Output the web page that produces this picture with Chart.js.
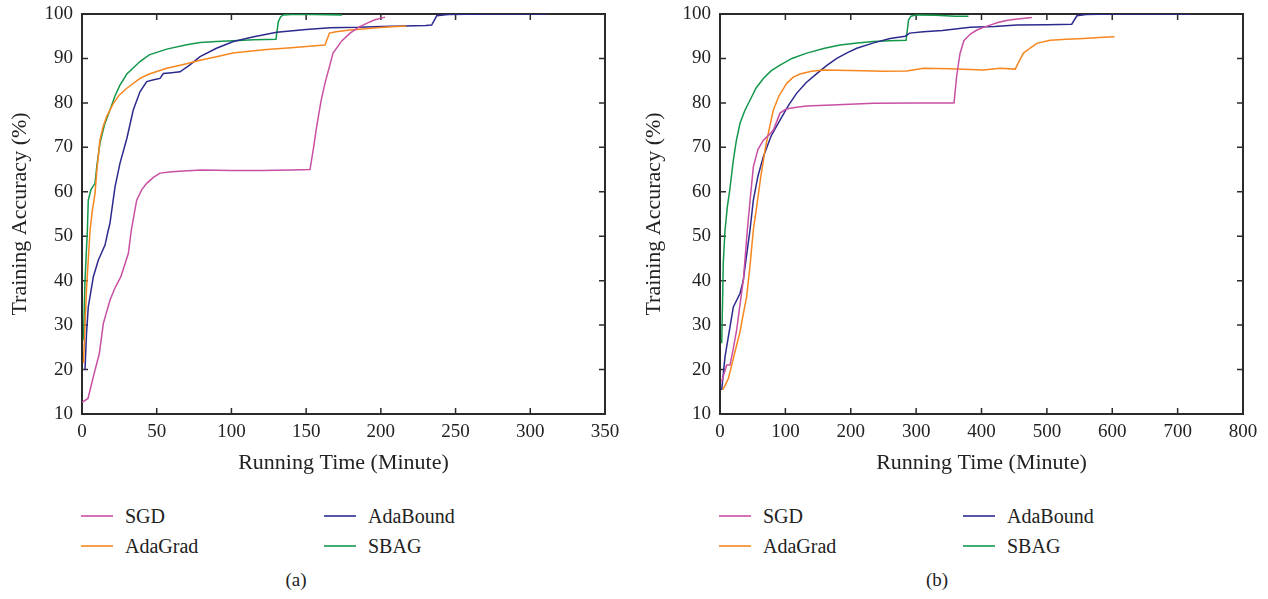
<!DOCTYPE html>
<html>
<head>
<meta charset="utf-8">
<script src="https://cdn.jsdelivr.net/npm/chart.js@4/dist/chart.umd.min.js"></script>
<style>
  body { margin: 0; background: #fff; }
  #page { position: relative; width: 1268px; height: 599px; font-family: 'Liberation Serif', 'DejaVu Serif', serif; color: #222; }
  .panel { position: absolute; top: 0; }
  .leg { position: absolute; display: flex; align-items: center; height: 24px; font-size: 20px; white-space: nowrap; }
  .leg span.line { display: inline-block; width: 32px; height: 2px; margin-right: 12px; opacity: 0.8; }
  .cap { position: absolute; font-size: 19px; transform: translateX(-50%); }
</style>
</head>
<body>
<div id="page">
  <div class="panel" style="left:0"><canvas id="chartA" width="634" height="480"></canvas></div>
  <div class="panel" style="left:634px"><canvas id="chartB" width="634" height="480"></canvas></div>
</div>
<script>
// series names / colours
const seriesNames = ['SGD', 'AdaGrad', 'AdaBound', 'SBAG'];
const seriesColors = ['#c94fa3', '#f7861e', '#2d2a8e', '#13984b'];

// axis ticks
const yTicks = [10, 20, 30, 40, 50, 60, 70, 80, 90, 100];
const xTicksA = [0, 50, 100, 150, 200, 250, 300, 350];
const xTicksB = [0, 100, 200, 300, 400, 500, 600, 700, 800];

// (a) running time (minute) / training accuracy (%)
const sgdTimeA = [0, 4, 7.6, 11.6, 14.3, 18.7, 22, 26, 31, 33, 36.6, 40, 43.3, 48, 52.2, 60, 67.8, 80, 100, 120, 140, 152.6, 155, 157, 160, 162.6, 168, 174, 179.4, 185, 190.5, 196, 202.8];
const sgdAccA = [12.6, 13.5, 18.4, 23.6, 30.4, 35.6, 38.3, 40.9, 46.1, 51.4, 58.1, 60.5, 61.9, 63.3, 64.2, 64.5, 64.7, 64.9, 64.8, 64.8, 64.9, 65.0, 70.0, 74.6, 80.5, 84.4, 91.2, 94.0, 95.7, 97.0, 97.9, 98.7, 99.3];

const adagradTimeA = [1, 3, 5.4, 7, 8.7, 10, 12, 14, 16.5, 21, 25, 30, 38.8, 45, 56.7, 70, 79, 90, 101, 112, 123.6, 140, 150, 162.6, 165.6, 170, 179.4, 190, 201.7, 217];
const adagradAccA = [21.4, 38, 51.4, 56, 59.6, 65, 71.6, 74.5, 76.9, 79.9, 81.8, 83.3, 85.5, 86.5, 87.8, 88.8, 89.6, 90.4, 91.2, 91.6, 92.0, 92.4, 92.7, 93.0, 95.7, 96.0, 96.4, 96.7, 97.0, 97.3];

const adaboundTimeA = [2, 3, 4.2, 7.6, 10.9, 15.4, 17.6, 18.7, 22.1, 25.4, 30, 34.3, 38.8, 43.3, 48, 52.2, 54.4, 60, 65.6, 72, 79, 90, 101.3, 115, 130.3, 150, 166, 185, 200, 215, 230, 234, 237.4, 245, 270, 290, 312];
const adaboundAccA = [19.9, 28, 34.1, 40.9, 44.6, 48, 51.4, 52.9, 61.1, 66.4, 72, 78.4, 82.5, 84.8, 85.2, 85.5, 86.6, 86.8, 87.0, 88.5, 90.4, 92.3, 93.8, 94.9, 95.9, 96.5, 96.9, 97.0, 97.2, 97.3, 97.4, 97.5, 99.6, 99.9, 100, 100, 100];

const sbagTimeA = [1, 2, 3.6, 4.2, 6, 8.7, 10, 12, 15, 18.7, 22, 25.4, 30, 38.8, 45, 56.7, 70, 79, 90, 101.3, 115, 129.8, 131.4, 133, 134.7, 140, 155, 174];
const sbagAccA = [26.6, 40, 51.4, 58.1, 60.5, 61.9, 66, 70.9, 75, 78.4, 81.5, 84, 86.5, 89.3, 90.8, 92.1, 93.1, 93.6, 93.8, 94.0, 94.2, 94.3, 98.3, 99.4, 99.8, 99.9, 99.9, 99.8];

// (b)
const sgdTimeB = [2.6, 6, 10.2, 15.3, 20, 25.5, 30, 35.7, 41.8, 46, 51, 58, 66.3, 75, 81.6, 91.8, 100, 107, 120, 132.7, 180, 234.7, 300, 358, 362, 367, 373, 383, 393, 403, 413, 425, 440, 455, 477];
const sgdAccB = [17.3, 19, 21, 21, 24.5, 28.9, 34, 40.1, 51.4, 58, 65.6, 69.5, 71.6, 72.8, 73.9, 77.7, 78.5, 78.8, 79.1, 79.3, 79.6, 79.9, 80.0, 80.0, 86.0, 91.0, 94.0, 95.5, 96.4, 97.0, 97.5, 98.1, 98.6, 98.9, 99.2];

const adagradTimeB = [4, 8, 12.8, 17.9, 22, 30.6, 35, 40.8, 46, 51, 56, 62, 68.9, 75, 81.6, 90, 102, 112, 122.4, 140, 158.1, 200, 250, 285.8, 311.3, 352, 403, 428.6, 451.6, 458, 464.3, 475, 484.7, 505, 530, 556, 580, 603.5];
const adagradAccB = [15.4, 16.5, 18, 21, 23.5, 28.5, 32, 36.4, 43.5, 51.4, 56.5, 63, 69.4, 74, 78.4, 81.5, 84.4, 85.8, 86.5, 87.1, 87.4, 87.3, 87.1, 87.2, 87.8, 87.7, 87.4, 87.8, 87.6, 89.5, 91.2, 92.4, 93.4, 94.1, 94.3, 94.5, 94.7, 94.9];

const adaboundTimeB = [2.6, 5, 7.7, 12.8, 20.4, 30.6, 35.7, 40, 45.9, 51, 58, 66.3, 78, 91.8, 105, 117.4, 132, 148, 163, 178.6, 195, 209.2, 235, 260.2, 283.2, 290, 311.2, 340, 382.7, 420, 454, 500, 538, 546, 560, 600, 650, 719];
const adaboundAccB = [15.4, 19, 22.9, 27.4, 34.1, 37.1, 40.1, 45, 51.4, 58.1, 63.5, 67.9, 72.5, 76.1, 79.5, 82.2, 84.6, 86.6, 88.4, 90, 91.3, 92.3, 93.5, 94.5, 95.0, 95.7, 96.0, 96.3, 97.0, 97.2, 97.5, 97.6, 97.7, 99.6, 99.9, 100, 100, 100];

const sbagTimeB = [2.6, 4, 5, 7.7, 11.2, 15, 20.4, 25, 30.6, 38, 45.9, 55, 66.3, 78, 91.8, 110, 132.7, 160, 183.7, 210, 234.7, 260, 284.7, 288.3, 292, 301, 330, 360, 380];
const sbagAccB = [25.9, 36, 43.9, 51.4, 56.6, 60.5, 67.1, 71.5, 75.4, 78.3, 80.6, 83.3, 85.5, 87.2, 88.5, 90, 91.2, 92.3, 93.0, 93.5, 93.8, 94.0, 94.1, 98.6, 99.5, 99.8, 99.7, 99.5, 99.5];

const FONT = "'Liberation Serif', 'DejaVu Serif', serif";

const toPoints = (ts, vs) => ts.map((t, i) => ({ x: t, y: vs[i] }));

// frame round the plot with inward ticks on all four sides (drawn under the lines)
const framePlugin = {
    id: 'frame',
    beforeDatasetsDraw(chart) {
        const { ctx, chartArea: { left, right, top, bottom }, scales: { x, y } } = chart;
        ctx.save();
        ctx.strokeStyle = '#2b2b2b';
        ctx.lineWidth = 2;
        ctx.strokeRect(left, top, right - left, bottom - top);
        ctx.lineWidth = 1.5;
        ctx.beginPath();
        x.ticks.forEach(t => {
            const px = x.getPixelForValue(t.value);
            ctx.moveTo(px, bottom); ctx.lineTo(px, bottom - 6);
            ctx.moveTo(px, top); ctx.lineTo(px, top + 6);
        });
        y.ticks.forEach(t => {
            const py = y.getPixelForValue(t.value);
            ctx.moveTo(left, py); ctx.lineTo(left + 6, py);
            ctx.moveTo(right, py); ctx.lineTo(right - 6, py);
        });
        ctx.stroke();
        ctx.restore();
    }
};

const makeChart = (id, series, xTicks, plotLeft, plotRight) => {
    const datasets = series.map((s, i) => ({
        label: seriesNames[i],
        data: toPoints(s[0], s[1]),
        borderColor: seriesColors[i],
        borderWidth: 1.5,
        pointRadius: 0,
        tension: 0,
        fill: false
    }));
    return new Chart(document.getElementById(id), {
        type: 'line',
        data: { datasets: datasets },
        options: {
            responsive: false,
            animation: false,
            devicePixelRatio: 1,
            layout: { padding: { left: 0, right: 634 - plotRight, top: 14, bottom: 0 } },
            plugins: { legend: { display: false }, tooltip: { enabled: false } },
            scales: {
                x: {
                    type: 'linear',
                    min: xTicks[0],
                    max: xTicks[xTicks.length - 1],
                    afterBuildTicks: sc => { sc.ticks = xTicks.map(v => ({ value: v })); },
                    afterFit: sc => { sc.height = 66; sc.paddingLeft = 0; sc.paddingRight = 0; },
                    grid: { display: false, drawTicks: false },
                    border: { display: false },
                    ticks: { color: '#222', padding: 7, maxRotation: 0, font: { family: FONT, size: 19 } },
                    title: { display: true, text: 'Running Time (Minute)', color: '#222', padding: { top: 0, bottom: 4 }, font: { family: FONT, size: 22 } }
                },
                y: {
                    type: 'linear',
                    min: 10,
                    max: 100,
                    afterBuildTicks: sc => { sc.ticks = yTicks.map(v => ({ value: v })); },
                    afterFit: sc => { sc.width = plotLeft; sc.paddingTop = 0; sc.paddingBottom = 0; },
                    grid: { display: false, drawTicks: false },
                    border: { display: false },
                    ticks: { color: '#222', padding: 9, font: { family: FONT, size: 19 } },
                    title: { display: true, text: 'Training Accuracy (%)', color: '#222', padding: { top: 7, bottom: 0 }, font: { family: FONT, size: 22 } }
                }
            }
        },
        plugins: [framePlugin]
    });
};

makeChart('chartA', [[sgdTimeA, sgdAccA], [adagradTimeA, adagradAccA], [adaboundTimeA, adaboundAccA], [sbagTimeA, sbagAccA]], xTicksA, 82, 605);
makeChart('chartB', [[sgdTimeB, sgdAccB], [adagradTimeB, adagradAccB], [adaboundTimeB, adaboundAccB], [sbagTimeB, sbagAccB]], xTicksB, 86, 609);

// legends under each panel, two columns: SGD, AdaGrad | AdaBound, SBAG
const page = document.getElementById('page');
const addLegend = (col1, col2, capX, capText) => {
    seriesNames.forEach((name, i) => {
        const d = document.createElement('div');
        d.className = 'leg';
        d.style.left = (i < 2 ? col1 : col2) + 'px';
        d.style.top = (i % 2 === 0 ? 504 : 534) + 'px';
        d.innerHTML = `<span class="line" style="background:${seriesColors[i]}"></span>${name}`;
        page.appendChild(d);
    });
    const c = document.createElement('div');
    c.className = 'cap';
    c.style.left = capX + 'px';
    c.style.top = '569px';
    c.textContent = capText;
    page.appendChild(c);
};
addLegend(81, 324, 296, '(a)');
addLegend(719, 963, 937, '(b)');
</script>
</body>
</html>
